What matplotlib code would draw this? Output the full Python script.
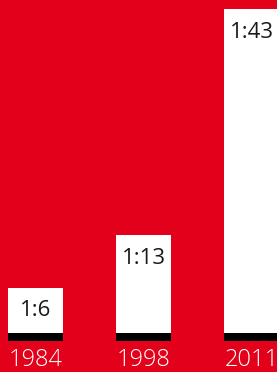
import matplotlib
matplotlib.use("Agg")
import matplotlib.pyplot as plt

years = ["1984", "1998", "2011"]
values = [6, 13, 43]
labels = ["1:6", "1:13", "1:43"]

RED = "#E2001A"
plt.rcParams['font.family'] = ['Open Sans', 'DejaVu Sans']

fig = plt.figure(figsize=(2.77, 3.72), dpi=100, facecolor=RED)
ax = fig.add_axes([0, 0, 1, 1])
ax.set_facecolor(RED)

scale = 7.53  # px per unit
x = list(range(len(values)))
w = 55 / 108
ax.bar(x, values, width=w, color="white", bottom=0)
strip = 8 / scale
ax.bar(x, [strip] * len(values), width=w, bottom=-strip, color="black")

for xi, v, lab, yr in zip(x, values, labels, years):
    ax.annotate(lab, (xi, v), xytext=(0, -9), textcoords="offset points",
                ha="center", va="top", fontsize=16, color="#1a1a1a")
    ax.annotate(yr, (xi, -strip), xytext=(0, -5), textcoords="offset points",
                ha="center", va="top", fontsize=17, color="white",
                fontweight="light")

ax.set_xlim(-35.5 / 108, 277 / 108 - 35.5 / 108)
ax.set_ylim(-39 / scale, 333 / scale)
ax.axis("off")
fig.savefig("out.png", dpi=100, facecolor=RED)
